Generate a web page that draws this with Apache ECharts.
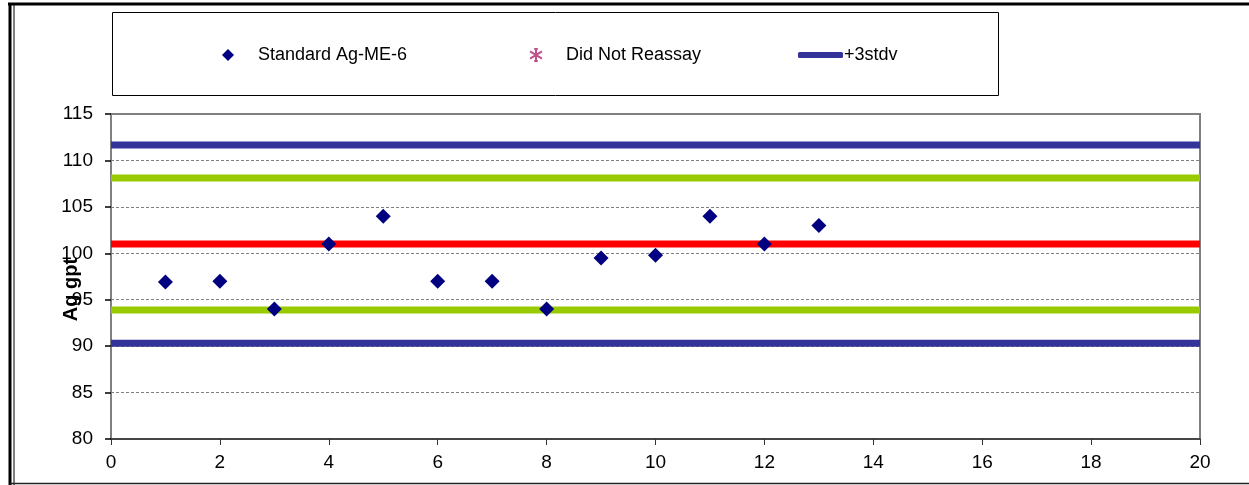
<!DOCTYPE html>
<html>
<head>
<meta charset="utf-8">
<script src="https://cdn.jsdelivr.net/npm/echarts@6/dist/echarts.min.js"></script>
<style>
  html, body { margin: 0; padding: 0; background: #fff; }
  #chart { width: 1249px; height: 485px; }
</style>
</head>
<body>
<div id="chart"></div>
<script>
// sample number and assay value (Ag g/t)
const sampleNo = [1, 2, 3, 4, 5, 6, 7, 8, 9, 10, 11, 12, 13];
const agValues = [96.9, 97.0, 94.0, 101.0, 104.0, 97.0, 97.0, 94.0, 99.5, 99.8, 104.0, 101.0, 103.0];
const reassayValues = [];

// control limits
const plus3 = 111.65;
const plus2 = 108.1;
const meanVal = 101.0;
const minus2 = 93.9;
const minus3 = 90.3;
const xRange = [0, 20];

const yTicks = { min: 80, max: 115, step: 5 };
const xTicks = { min: 0, max: 20, step: 2 };

const fontFam = '"Liberation Sans", Arial, sans-serif';

const chart = echarts.init(document.getElementById('chart'));

const hLine = (name, val, color) => ({
  name: name,
  type: 'line',
  symbol: 'none',
  silent: true,
  data: xRange.map(x => [x, val]),
  lineStyle: { color: color, width: 7, cap: 'butt' },
  itemStyle: { color: color },
  z: 2
});

const option = {
  animation: false,
  backgroundColor: '#fff',
  grid: {
    left: 111, right: 49, top: 114, bottom: 46,
    show: true,
    borderColor: '#808080',
    borderWidth: 2
  },
  legend: [
    {
      left: 222, top: 46, padding: 0,
      data: ['Standard Ag-ME-6'],
      itemWidth: 12, itemHeight: 12,
      textStyle: { fontFamily: fontFam, fontSize: 18, color: '#000', padding: [0, 0, 0, 19] }
    },
    {
      left: 529, top: 46, padding: 0,
      data: ['Did Not Reassay'],
      itemWidth: 12, itemHeight: 12,
      textStyle: { fontFamily: fontFam, fontSize: 18, color: '#000', padding: [0, 0, 0, 19] }
    },
    {
      left: 798, top: 46, padding: 0,
      data: [{ name: '+3stdv', icon: 'roundRect' }],
      itemWidth: 45, itemHeight: 6,
      textStyle: { fontFamily: fontFam, fontSize: 18, color: '#000', padding: [0, 0, 0, -4] }
    }
  ],
  xAxis: {
    type: 'value',
    min: xTicks.min, max: xTicks.max, interval: xTicks.step,
    axisLine: { lineStyle: { color: '#333', width: 1.5 } },
    axisTick: { show: true, length: 6, lineStyle: { color: '#333' } },
    axisLabel: { margin: 14, fontFamily: fontFam, fontSize: 19, color: '#000' },
    splitLine: { show: false }
  },
  yAxis: {
    type: 'value',
    min: yTicks.min, max: yTicks.max, interval: yTicks.step,
    name: 'Ag gpt',
    nameLocation: 'middle',
    nameRotate: 90,
    nameGap: 30,
    nameMoveOverlap: false,
    nameTextStyle: { fontFamily: fontFam, fontSize: 20, fontWeight: 'bold', color: '#000', padding: [0, 26, 0, 0] },
    axisLine: { show: true, lineStyle: { color: '#808080', width: 2 } },
    axisTick: { show: true, length: 6, lineStyle: { color: '#000', width: 1.5 } },
    axisLabel: { margin: 18, fontFamily: fontFam, fontSize: 19, color: '#000' },
    splitLine: { show: true, lineStyle: { color: '#808080', width: 1, type: [3, 2] } }
  },
  series: [
    hLine('+3stdv', plus3, '#333399'),
    hLine('+2stdv', plus2, '#99cc00'),
    hLine('Mean', meanVal, '#ff0000'),
    hLine('-2stdv', minus2, '#99cc00'),
    hLine('-3stdv', minus3, '#333399'),
    {
      name: 'Standard Ag-ME-6',
      type: 'scatter',
      symbol: 'diamond',
      symbolSize: 15,
      data: sampleNo.map((x, i) => [x, agValues[i]]),
      itemStyle: { color: '#000080', opacity: 1 },
      z: 5
    },
    {
      name: 'Did Not Reassay',
      type: 'scatter',
      symbol: 'path://M5,0L5,10M0,2L10,8M0,8L10,2M3.5,0L6.5,0M3.5,10L6.5,10',
      symbolSize: 10,
      data: reassayValues,
      itemStyle: { color: 'rgba(0,0,0,0)', borderColor: '#c0508a', borderWidth: 1.3, opacity: 1 },
      z: 5
    }
  ],
  graphic: [
    // legend box
    { type: 'rect', shape: { x: 112.5, y: 12.5, width: 886, height: 83 },
      style: { fill: 'none', stroke: '#000', lineWidth: 1 }, silent: true },
    // outer frame
    { type: 'line', shape: { x1: 8, y1: 4, x2: 1249, y2: 4 },
      style: { stroke: '#000', lineWidth: 3 }, silent: true },
    { type: 'line', shape: { x1: 10, y1: 3, x2: 10, y2: 485 },
      style: { stroke: '#000', lineWidth: 3 }, silent: true },
    { type: 'line', shape: { x1: 14, y1: 3, x2: 14, y2: 485 },
      style: { stroke: '#000', lineWidth: 1 }, silent: true },
    { type: 'line', shape: { x1: 10, y1: 483.5, x2: 1249, y2: 483.5 },
      style: { stroke: '#222', lineWidth: 1.5 }, silent: true }
  ]
};

chart.setOption(option);
window.addEventListener('resize', function () {
  chart.resize();
});
</script>
</body>
</html>
